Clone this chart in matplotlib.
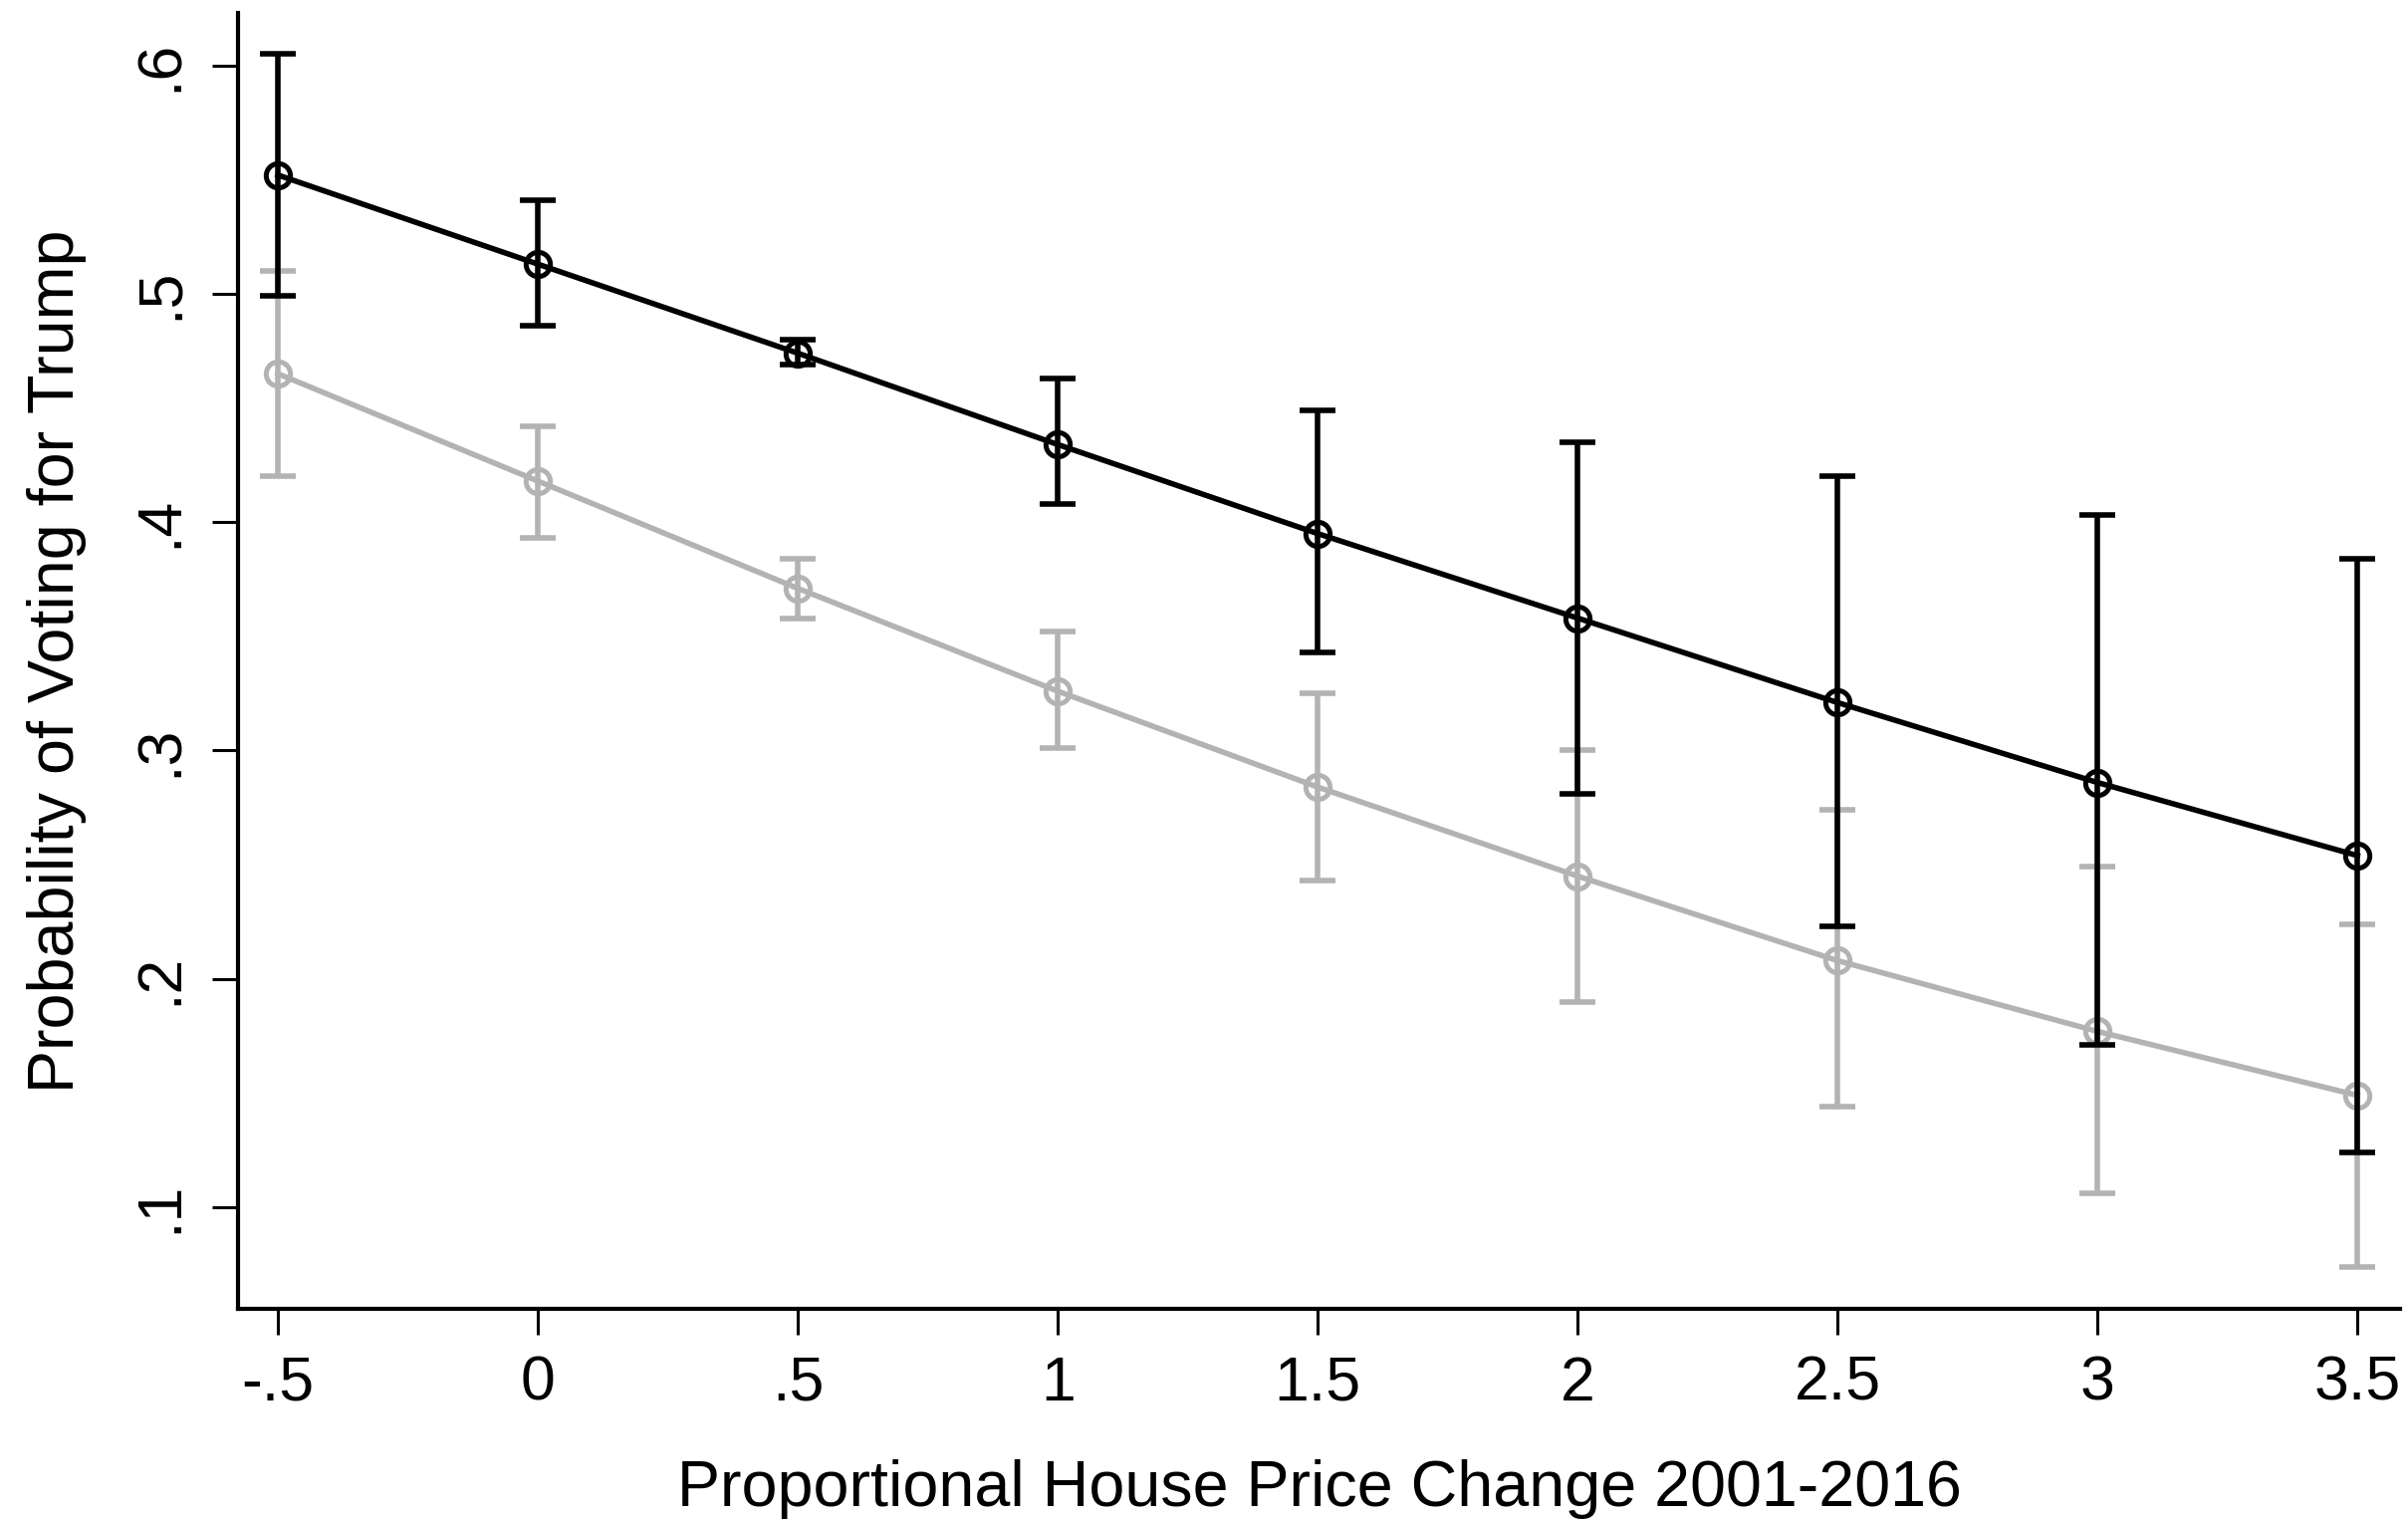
import matplotlib
matplotlib.use("Agg")
import matplotlib.pyplot as plt
import numpy as np

plt.rcParams['font.family'] = ['Liberation Sans', 'DejaVu Sans']

x = [-0.5, 0, 0.5, 1, 1.5, 2, 2.5, 3, 3.5]

black_mean = [0.552, 0.513, 0.474, 0.434, 0.395, 0.358, 0.321, 0.286, 0.254]
black_hi = [0.605, 0.541, 0.480, 0.463, 0.449, 0.435, 0.420, 0.403, 0.384]
black_lo = [0.499, 0.486, 0.469, 0.408, 0.343, 0.281, 0.223, 0.171, 0.124]

gray_mean = [0.465, 0.418, 0.371, 0.326, 0.284, 0.245, 0.208, 0.177, 0.149]
gray_hi = [0.510, 0.442, 0.384, 0.352, 0.325, 0.300, 0.274, 0.249, 0.224]
gray_lo = [0.420, 0.393, 0.358, 0.301, 0.243, 0.190, 0.144, 0.106, 0.074]

xticks = [-0.5, 0, 0.5, 1, 1.5, 2, 2.5, 3, 3.5]
xticklabels = ["-.5", "0", ".5", "1", "1.5", "2", "2.5", "3", "3.5"]
yticks = [0.1, 0.2, 0.3, 0.4, 0.5, 0.6]
yticklabels = [".1", ".2", ".3", ".4", ".5", ".6"]

fig = plt.figure(figsize=(24.18, 15.26), dpi=100)
ax = fig.add_axes([0.0988, 0.1389, 0.8979, 0.8526])

gray = "#b3b3b3"

def draw(mean, lo, hi, color, z):
    m = np.array(mean)
    yerr = [m - np.array(lo), np.array(hi) - m]
    ax.errorbar(x, mean, yerr=yerr, fmt='none', ecolor=color, elinewidth=4.0,
                capsize=13, capthick=4.0, zorder=z)
    ax.plot(x, mean, color=color, lw=4.0, marker='o', markersize=17.5,
            mfc='none', mec=color, mew=3.6, zorder=z + 0.5)

draw(gray_mean, gray_lo, gray_hi, gray, 2)
draw(black_mean, black_lo, black_hi, "black", 4)

ax.set_xlim(-0.577, 3.582)
ax.set_ylim(0.0555, 0.623)
ax.set_xticks(xticks)
ax.set_xticklabels(xticklabels)
ax.set_yticks(yticks)
ax.set_yticklabels(yticklabels, rotation=90, va='center')

for s in ['top', 'right']:
    ax.spines[s].set_visible(False)
for s in ['left', 'bottom']:
    ax.spines[s].set_linewidth(3.0)

ax.tick_params(axis='both', length=19, width=2.2, labelsize=45, pad=14)
ax.tick_params(axis='y', pad=16)

ax.set_xlabel("Proportional House Price Change 2001-2016", fontsize=46.5, labelpad=33)
ax.set_ylabel("Probability of Voting for Trump", fontsize=46.5, labelpad=32)

fig.savefig("out.png", dpi=100)
